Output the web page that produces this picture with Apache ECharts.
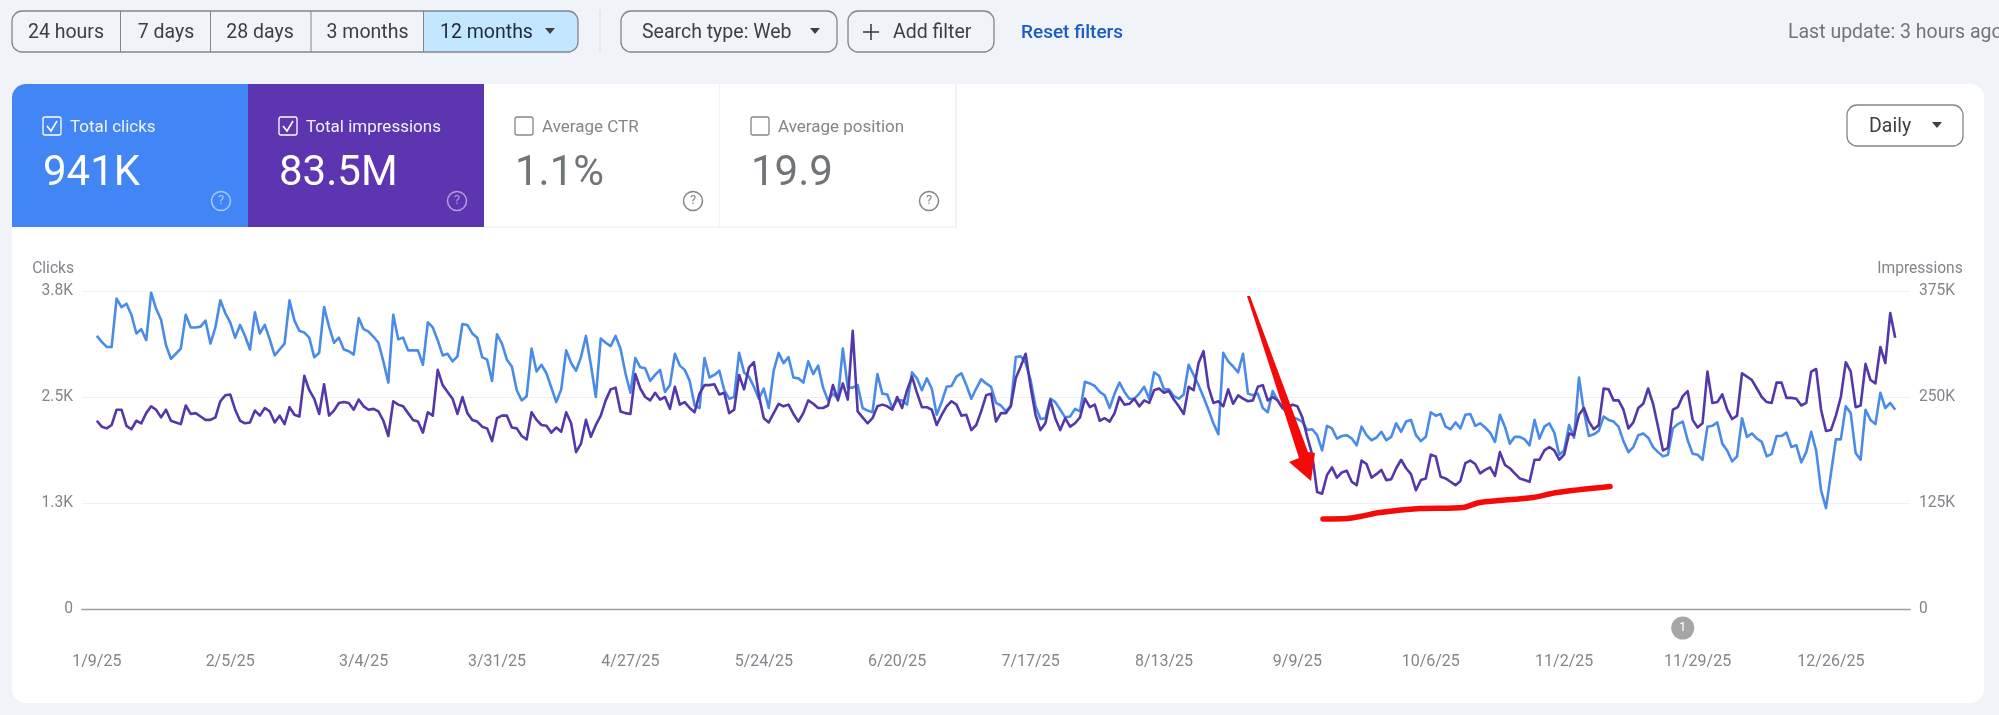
<!DOCTYPE html>
<html>
<head>
<meta charset="utf-8">
<style>html,body{margin:0;padding:0;background:#f0f4f9;overflow:hidden}#c{width:1999px;height:715px;filter:blur(0.5px)}</style>
<script src="https://cdn.jsdelivr.net/npm/echarts@6/dist/echarts.min.js"></script>
</head>
<body>
<div id="c"></div>
<script>
const seriesNames = ['Clicks', 'Impressions'];
const clicksLabels = ['0', '1.3K', '2.5K', '3.8K'];
const impressionsLabels = ['0', '125K', '250K', '375K'];
const xTickLabels = ['1/9/25','2/5/25','3/4/25','3/31/25','4/27/25','5/24/25','6/20/25','7/17/25','8/13/25','9/9/25','10/6/25','11/2/25','11/29/25','12/26/25'];
const startDate = [2025, 0, 9];

const clicks = [
3220,3150,3090,3090,3660,3560,3600,3470,3250,3300,3170,3730,3540,3410,3110,2950,3010,3070,3470,3320,
3320,3330,3400,3130,3320,3640,3490,3380,3200,3350,3220,3060,3500,3250,3350,3180,2990,3060,3130,3640,
3400,3280,3260,3200,2970,3020,3560,3330,3140,3200,3060,3040,3000,3430,3300,3270,3210,3140,2920,2670,
3470,3180,3200,3050,3050,3050,2880,3380,3320,3170,2990,3010,2920,2980,3360,3350,3250,3200,2970,2940,
2690,3240,3130,2940,2860,2580,2460,2510,3070,2800,2880,2780,2610,2440,2590,3050,2900,2810,2970,3220,
2880,2500,3190,3140,3100,3220,3070,2780,2550,2960,2850,2840,2690,2760,2820,2560,2640,3010,2870,2820,
2690,2400,2370,2960,2730,2760,2810,2580,2480,2500,3020,2790,2740,2620,2480,2600,2370,2810,3020,2900,
2970,2730,2720,2670,2920,2770,2870,2610,2460,2540,2480,3070,2610,2610,2640,2370,2340,2320,2770,2540,
2530,2370,2460,2460,2410,2790,2720,2580,2720,2600,2290,2440,2620,2630,2740,2780,2640,2480,2600,2710,
2660,2620,2430,2400,2330,2400,2970,2980,2900,2700,2390,2240,2250,2480,2440,2350,2260,2270,2360,2330,
2680,2660,2630,2560,2520,2370,2540,2670,2560,2480,2480,2540,2620,2480,2790,2750,2590,2590,2510,2480,
2530,2880,2760,2640,2500,2350,2190,2060,3020,2920,2860,2790,3010,2540,2520,2540,2370,2320,2570,2460,
2370,2310,2260,2240,2210,2110,2120,2050,1870,2160,2130,2010,2040,2050,2010,1930,2150,2050,1990,2020,
2090,1990,2030,2190,2090,2210,2230,2050,1980,2030,2320,2280,2300,2150,2120,2200,2130,2290,2300,2160,
2190,2140,2080,1970,2290,2150,1950,2030,2030,2000,1930,2230,2010,2150,2190,2080,1820,1870,2170,2020,
2730,2330,2040,2060,2100,2270,2230,2210,2150,1980,1850,1910,2050,2070,2020,1910,1850,1800,1820,2130,
2180,2210,1990,1830,1820,1760,2150,2160,2200,1950,1870,1740,1800,2250,2030,2070,2010,1970,1800,1830,
2040,2040,2080,1910,1930,1730,1850,2090,1870,1400,1190,1600,2000,2000,2390,2310,1840,1760,2350,2230,
2180,2550,2370,2430,2350
];

const impressions = [
222,215,213,217,235,235,216,212,222,219,231,239,235,226,235,222,220,218,240,230,
231,227,223,223,226,245,252,253,235,222,219,220,234,228,237,233,220,228,218,238,
229,227,275,258,248,230,265,228,234,243,244,243,235,247,239,235,236,233,222,204,
245,241,239,231,223,221,208,232,228,282,264,256,248,230,250,231,223,221,215,213,
198,225,228,228,214,213,204,200,232,223,217,216,208,214,209,232,219,185,195,223,
203,217,228,246,259,261,233,231,230,277,260,250,246,255,247,250,236,262,241,244,
237,232,254,264,264,265,253,255,231,235,276,259,285,291,252,225,220,231,242,239,
241,230,221,231,246,242,237,237,240,264,246,266,247,328,233,226,219,225,239,241,
239,235,250,237,258,274,255,238,238,235,217,229,239,245,241,228,229,211,217,233,
252,254,221,231,231,239,272,286,301,262,229,211,219,246,225,211,225,215,219,226,
248,238,241,222,225,221,231,250,241,242,248,239,246,243,258,260,255,257,247,239,
230,262,258,290,304,262,243,245,239,259,242,252,248,245,246,262,264,246,250,246,
237,237,241,239,226,203,182,138,136,158,167,155,161,163,150,146,175,171,155,159,
164,152,153,166,176,166,159,140,152,154,182,180,156,154,150,146,151,172,175,171,
160,164,167,157,185,170,166,160,154,152,150,176,176,187,191,187,176,182,207,205,
229,237,221,212,217,260,259,246,246,235,213,220,237,242,260,242,215,187,190,235,
238,251,257,223,214,219,280,243,244,253,235,224,228,278,274,270,260,250,244,243,
267,267,249,249,248,240,243,280,283,235,210,211,228,250,291,280,238,240,289,270,
266,309,290,349,320
].map(k => k * 1000);

const PAD = 3;
const pad = Array(PAD).fill(null);
const dates = clicks.map((_, i) => {
  const d = new Date(startDate[0], startDate[1], startDate[2] + i);
  return (d.getMonth() + 1) + '/' + d.getDate() + '/' + String(d.getFullYear()).slice(2);
});
const categories = [...Array(PAD).fill(' '), ...dates, ...Array(PAD).fill(' ')];
const noteDate = '11/26/25';

const FONT = 'Roboto';
const G = [];
function rect(x, y, w, h, fill, stroke, r, z) {
  G.push({type:'rect', z:z||1, shape:{x, y, width:w, height:h, r:r||0}, style:{fill:fill||'none', stroke:stroke||'none', lineWidth:1.3}});
}
function text(s, x, y, size, color, opts) {
  G.push({type:'text', z:5, x, y, style:Object.assign({text:s, fill:color, fontFamily:FONT, fontSize:size, textVerticalAlign:'middle', verticalAlign:'middle'}, opts||{})});
}
function caret(x, y, color) {
  G.push({type:'polygon', z:5, shape:{points:[[x-5,y-3],[x+5,y-3],[x,y+3]]}, style:{fill:color}});
}
function line(pts, color, w, z) {
  G.push({type:'polyline', z:z||5, shape:{points:pts}, style:{stroke:color, lineWidth:w, fill:'none'}});
}

// page frame
rect(12, 84, 1972, 619, '#ffffff', null, 14, -1);

// range buttons
const btnColor = '#3c4043', btnBorder = '#80868b', btnFont = 19.5;
rect(423, 11, 155, 41, '#c2e7ff', null, [0,10,10,0]);
rect(12, 11, 566, 41, null, btnBorder, 10, 3);
[120.5, 210.5, 311, 423.5].forEach(x => line([[x,11],[x,52]], btnBorder, 1, 3));
[['24 hours',66],['7 days',166],['28 days',260],['3 months',367.5]].forEach(b => text(b[0], b[1], 33, btnFont, btnColor, {align:'center', textAlign:'center'}));
text('12 months', 440, 33, btnFont, '#1f2937');
caret(550, 31, btnColor);
line([[600,10],[600,52]], '#dadce0', 1);
rect(621, 11, 216, 41, null, btnBorder, 10, 3);
text('Search type: Web', 642, 33, btnFont, btnColor);
caret(815, 31, btnColor);
rect(848, 11, 146, 41, null, btnBorder, 10, 3);
line([[863,32],[879,32]], btnColor, 1.6);
line([[871,24],[871,40]], btnColor, 1.6);
text('Add filter', 893, 33, btnFont, btnColor);
text('Reset filters', 1021, 33, 19, '#1a5bc4', {fontWeight:500});
text('Last update: 3 hours ago', 1788, 33, btnFont, '#70757a');

// metric cards
const cards = [
  {x:12, label:'Total clicks', value:'941K', fill:'#4285f4', fg:'#ffffff', help:'#a9c8fb', on:true, r:[14,0,0,0]},
  {x:248, label:'Total impressions', value:'83.5M', fill:'#5e35b1', fg:'#ffffff', help:'#b39ddb', on:true, r:0},
  {x:484, label:'Average CTR', value:'1.1%', fill:'#ffffff', fg:'#70757a', help:'#80868b', on:false, r:0},
  {x:720, label:'Average position', value:'19.9', fill:'#ffffff', fg:'#70757a', help:'#80868b', on:false, r:0}
];
cards.forEach(c => {
  rect(c.x, 84, 236, 143, c.fill, null, c.r, 0);
  if (!c.on) { line([[c.x+236,84],[c.x+236,227],[c.x,227]], '#e8eaed', 1.2, 1); }
  rect(c.x+31, 117, 18, 18, null, c.on ? '#ffffff' : '#80868b', 2, 3);
  if (c.on) { line([[c.x+35,126],[c.x+39,131],[c.x+45,121]], '#ffffff', 1.6); }
  text(c.label, c.x+58, 128, 17, c.on ? '#eef3ff' : '#80868b');
  text(c.value, c.x+31, 174, 42, c.fg);
  G.push({type:'circle', z:5, shape:{cx:c.x+209, cy:201, r:9.5}, style:{fill:'none', stroke:c.help, lineWidth:1.5}});
  text('?', c.x+209, 201, 13, c.help, {align:'center', textAlign:'center'});
});

// granularity button
rect(1847, 105, 116, 41, '#ffffff', btnBorder, 10, 3);
text('Daily', 1869, 127, 19.5, btnColor);
caret(1937, 125, btnColor);

// red annotation
G.push({type:'polygon', z:60, shape:{points:[[1247,296],[1250,296],[1308,452],[1315,453],[1311,481],[1289,462],[1299,458]]}, style:{fill:'#f50a0a'}});
G.push({type:'polyline', z:60, shape:{smooth:0.3, points:[[1323,519],[1347,518.5],[1360,516.5],[1380,512.5],[1420,508.5],[1463,507.5],[1480,502.5],[1533,497.5],[1557,492.5],[1610,486.5]]},
  style:{stroke:'#f50a0a', lineWidth:5.5, lineCap:'round', fill:'none'}});

const chart = echarts.init(document.getElementById('c'), null, {renderer:'canvas'});
const axisText = {color:'#80868b', fontFamily:FONT, fontSize:15.6};
const split = {show:true, lineStyle:{color:'#eef0f2', width:1.2}};
chart.setOption({
  animation:false,
  backgroundColor:'#f0f4f9',
  textStyle:{fontFamily:FONT},
  grid:{left:82, right:89, top:291, bottom:106, containLabel:false},
  xAxis:{
    type:'category', data:categories, boundaryGap:false,
    axisLine:{lineStyle:{color:'#9aa0a6', width:1.4}}, axisTick:{show:false}, splitLine:{show:false},
    axisLabel:Object.assign({}, axisText, {fontSize:16, margin:45, interval:(i, v) => xTickLabels.includes(v), hideOverlap:false})
  },
  yAxis:[
    {type:'value', min:0, max:3750, interval:1250, name:seriesNames[0], nameLocation:'end', nameGap:14,
     nameTextStyle:Object.assign({}, axisText, {align:'right', padding:[0,8,0,0]}),
     axisLine:{show:false}, axisTick:{show:false}, splitLine:split,
     axisLabel:Object.assign({}, axisText, {margin:9, padding:[2,0,0,0], formatter:v => clicksLabels[v/1250]})},
    {type:'value', min:0, max:375000, interval:125000, name:seriesNames[1], nameLocation:'end', nameGap:14,
     nameTextStyle:Object.assign({}, axisText, {align:'center', padding:[0,0,0,20]}),
     axisLine:{show:false}, axisTick:{show:false}, splitLine:{show:false},
     axisLabel:Object.assign({}, axisText, {margin:9, padding:[2,0,0,0], formatter:v => impressionsLabels[v/125000]})}
  ],
  series:[
    {name:seriesNames[0], type:'line', yAxisIndex:0, data:[...pad, ...clicks, ...pad], showSymbol:false, symbol:'none',
     lineStyle:{color:'#4a8be8', width:2.6, join:'round'}, z:3},
    {name:seriesNames[1], type:'line', yAxisIndex:1, data:[...pad, ...impressions, ...pad], showSymbol:false, symbol:'none',
     lineStyle:{color:'#5238a8', width:2.6, join:'round'}, z:4,
     markPoint:{silent:true, symbol:'circle', symbolSize:23, symbolOffset:[0,19], itemStyle:{color:'#a6a6a6'},
       label:{show:true, formatter:'1', color:'#ffffff', fontFamily:FONT, fontSize:13},
       data:[{coord:[noteDate, 0]}]}}
  ],
  graphic:{elements:G}
});
</script>
</body>
</html>
